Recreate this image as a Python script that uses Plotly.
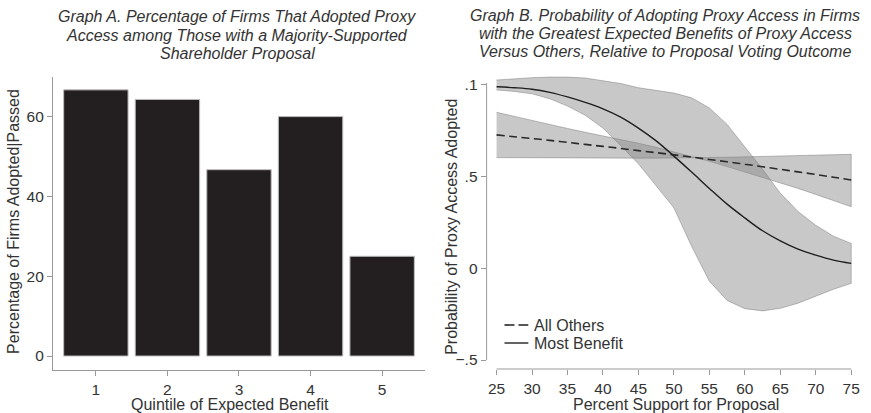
import plotly.graph_objects as go

# ---------------- Data ----------------
quintiles = [1, 2, 3, 4, 5]
pct_adopted = [66.7, 64.3, 46.7, 60.0, 25.0]

support = [25, 27.5, 30, 32.5, 35, 37.5, 40, 42.5, 45, 47.5, 50,
           52.5, 55, 57.5, 60, 62.5, 65, 67.5, 70, 72.5, 75]

most_benefit = [0.99, 0.985, 0.977, 0.96, 0.935, 0.905, 0.87, 0.825, 0.765, 0.695, 0.612,
                0.525, 0.436, 0.35, 0.275, 0.205, 0.15, 0.105, 0.072, 0.045, 0.027]
most_benefit_hi = [1.027, 1.035, 1.04, 1.043, 1.043, 1.038, 1.025, 1.008, 0.985, 0.97, 0.956,
                   0.93, 0.875, 0.785, 0.665, 0.54, 0.41, 0.31, 0.235, 0.175, 0.136]
most_benefit_lo = [0.973, 0.965, 0.952, 0.925, 0.885, 0.835, 0.765, 0.67, 0.57, 0.45, 0.33,
                   0.12, -0.07, -0.175, -0.22, -0.232, -0.218, -0.19, -0.15, -0.114, -0.082]

all_others = [0.728, 0.718, 0.708, 0.698, 0.687, 0.676, 0.665, 0.654, 0.642, 0.631, 0.619,
              0.607, 0.594, 0.581, 0.568, 0.554, 0.540, 0.526, 0.512, 0.497, 0.482]
all_others_hi = [0.851, 0.828, 0.805, 0.783, 0.763, 0.742, 0.722, 0.705, 0.682, 0.66, 0.636,
                 0.61, 0.584, 0.555, 0.526, 0.497, 0.467, 0.436, 0.403, 0.370, 0.336]
all_others_lo = [0.604, 0.604, 0.603, 0.603, 0.602, 0.602, 0.601, 0.601, 0.601, 0.601, 0.602,
                 0.603, 0.604, 0.606, 0.608, 0.61, 0.612, 0.614, 0.617, 0.619, 0.622]

series_names = ["All Others", "Most Benefit"]

ytick_vals_b = [-0.5, 0, 0.5, 1]
ytick_text_b = ["\u2212.5", "0", ".5", ".1"]
xtick_vals_b = [25, 30, 35, 40, 45, 50, 55, 60, 65, 70, 75]

# ---------------- Styling ----------------
W, H = 871, 413
FONT = "Liberation Sans, Arial, Helvetica, sans-serif"
TXT = "#333333"
AX = "#999999"
FS = 16
TFS = 15.5

def px_x(px):
    return px / W

def px_y(py):
    return 1 - py / H

fig = go.Figure()

# Panel A bars
fig.add_trace(go.Bar(
    x=quintiles, y=pct_adopted, width=0.9,
    marker=dict(color="#231f20", line=dict(color="#bdbdbd", width=1)),
    xaxis="x", yaxis="y", showlegend=False, hoverinfo="x+y"))

# Panel B bands
band_fill = "rgba(134,134,134,0.45)"
band_line = dict(color="rgba(110,110,110,0.55)", width=0.8)
fig.add_trace(go.Scatter(
    x=support + support[::-1], y=all_others_hi + all_others_lo[::-1],
    fill="toself", fillcolor=band_fill, line=band_line, mode="lines",
    xaxis="x2", yaxis="y2", showlegend=False, hoverinfo="skip"))
fig.add_trace(go.Scatter(
    x=support + support[::-1], y=most_benefit_hi + most_benefit_lo[::-1],
    fill="toself", fillcolor=band_fill, line=band_line, mode="lines",
    xaxis="x2", yaxis="y2", showlegend=False, hoverinfo="skip"))

# Panel B lines
dash_style = "8px,4.5px"
fig.add_trace(go.Scatter(
    x=support, y=all_others, mode="lines", name=series_names[0],
    line=dict(color="#2a2a2a", width=1.6, dash=dash_style, shape="spline"),
    xaxis="x2", yaxis="y2", showlegend=False))
fig.add_trace(go.Scatter(
    x=support, y=most_benefit, mode="lines", name=series_names[1],
    line=dict(color="#1e1e1e", width=1.4, shape="spline"),
    xaxis="x2", yaxis="y2", showlegend=False))

# Axis definitions
axis_common = dict(showgrid=False, zeroline=False, ticks="outside", ticklen=5,
                   tickcolor=AX, tickwidth=1, tickfont=dict(family=FONT, size=TFS, color=TXT))

fig.update_layout(
    width=W, height=H, margin=dict(l=0, r=0, t=0, b=0),
    paper_bgcolor="white", plot_bgcolor="white",
    font=dict(family=FONT, size=FS, color=TXT),
    xaxis=dict(domain=[px_x(53.3), px_x(428)], range=[0.4, 5.6],
               tickvals=quintiles, showline=True, linecolor=AX, linewidth=1,
               anchor="y", **axis_common),
    yaxis=dict(domain=[px_y(370), px_y(76.7)], range=[-3.5, 70],
               tickvals=[0, 20, 40, 60], showline=True, linecolor=AX, linewidth=1,
               anchor="x", **axis_common),
    xaxis2=dict(domain=[px_x(490), px_x(860)], range=[23.6, 75.4],
                tickvals=xtick_vals_b, showline=False, anchor="y2", **axis_common),
    yaxis2=dict(domain=[px_y(369), px_y(76)], range=[-0.549, 1.049],
                tickvals=ytick_vals_b, ticktext=ytick_text_b, showline=False,
                anchor="x2", **axis_common),
    showlegend=False,
    bargap=0.1,
)

# Panel B axis lines (span tick range only)
fig.add_shape(type="line", xref="x2 domain", yref="y2", x0=0, x1=0, y0=-0.5, y1=1.01,
              line=dict(color=AX, width=1))
fig.add_shape(type="line", xref="x2", yref="y2 domain", x0=25, x1=75, y0=0, y1=0,
              line=dict(color=AX, width=1))

# Legend (drawn as key samples + labels inside panel B)
legend_rows = [(325, dash_style, 1.6), (343, "solid", 1.4)]
for name, (yy, dsh, wd) in zip(series_names, legend_rows):
    fig.add_shape(type="line", xref="paper", yref="paper",
                  x0=px_x(508), x1=px_x(532), y0=px_y(yy), y1=px_y(yy),
                  line=dict(color="#222222", width=wd, dash=("10px,4px" if dsh != "solid" else "solid")))
    fig.add_annotation(text=name, x=px_x(536), y=px_y(yy), xref="paper", yref="paper",
                       xanchor="left", yanchor="middle", showarrow=False,
                       font=dict(family=FONT, size=FS, color=TXT))

# Titles
titleA = ["Graph A. Percentage of Firms That Adopted Proxy",
          "Access among Those with a Majority-Supported",
          "Shareholder Proposal"]
titleB = ["Graph B. Probability of Adopting Proxy Access in Firms",
          "with the Greatest Expected Benefits of Proxy Access",
          "Versus Others, Relative to Proposal Voting Outcome"]
line_y = [17, 35, 53]
for t, yy in zip(titleA, line_y):
    fig.add_annotation(text="<i>" + t + "</i>", x=px_x(239), y=px_y(yy), xref="paper", yref="paper",
                       xanchor="center", yanchor="middle", showarrow=False,
                       font=dict(family=FONT, size=FS, color=TXT))
for t, yy in zip(titleB, line_y):
    fig.add_annotation(text="<i>" + t + "</i>", x=px_x(670), y=px_y(yy - 1), xref="paper", yref="paper",
                       xanchor="center", yanchor="middle", showarrow=False,
                       font=dict(family=FONT, size=FS, color=TXT))

# Axis titles
fig.add_annotation(text="Quintile of Expected Benefit", x=px_x(232), y=px_y(404),
                   xref="paper", yref="paper", showarrow=False, xanchor="center", yanchor="middle",
                   font=dict(family=FONT, size=FS, color=TXT))
fig.add_annotation(text="Percentage of Firms Adopted|Passed", x=px_x(13), y=px_y(221),
                   xref="paper", yref="paper", showarrow=False, xanchor="center", yanchor="middle",
                   textangle=-90, font=dict(family=FONT, size=FS, color=TXT))
fig.add_annotation(text="Percent Support for Proposal", x=px_x(681), y=px_y(404),
                   xref="paper", yref="paper", showarrow=False, xanchor="center", yanchor="middle",
                   font=dict(family=FONT, size=FS, color=TXT))
fig.add_annotation(text="Probability of Proxy Access Adopted", x=px_x(455), y=px_y(227),
                   xref="paper", yref="paper", showarrow=False, xanchor="center", yanchor="middle",
                   textangle=-90, font=dict(family=FONT, size=FS, color=TXT))

fig.write_html("out.html", config={"displayModeBar": False},
               post_script="document.body.style.margin='0px';document.body.style.overflow='hidden';")
